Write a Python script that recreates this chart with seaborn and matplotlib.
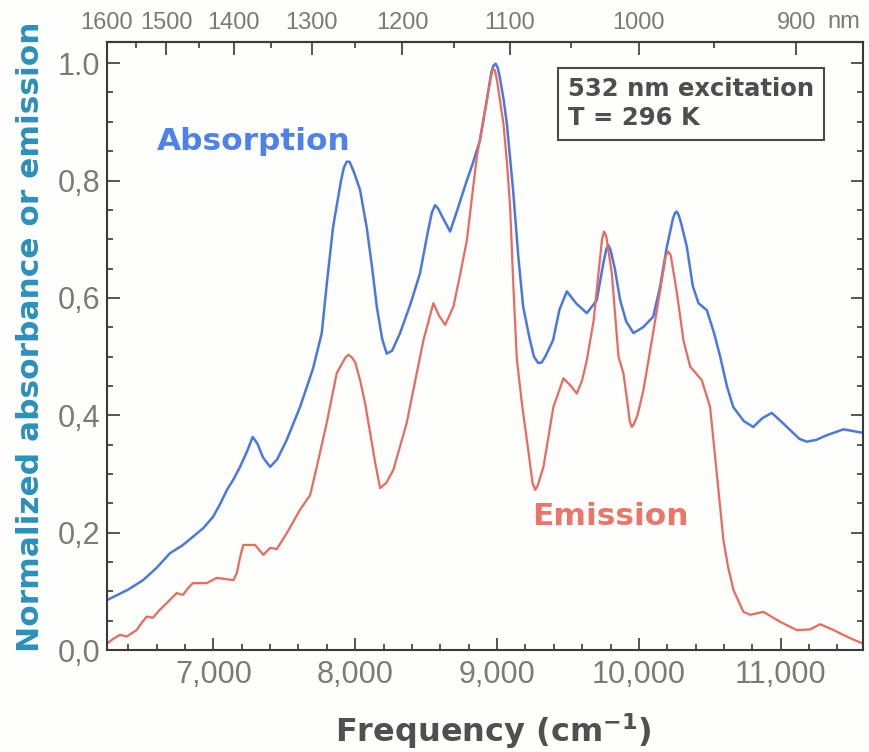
import numpy as np
import pandas as pd
import matplotlib
matplotlib.use("Agg")
import matplotlib.pyplot as plt
import seaborn as sns
from matplotlib.ticker import MultipleLocator, FixedLocator, FuncFormatter

# Absorption spectrum (normalized), frequency in cm^-1
abs_freq = [6250, 6400, 6504, 6600, 6694, 6780, 6856, 6930, 6998, 7050,
            7096, 7140, 7188, 7240, 7277, 7310, 7350, 7400, 7450, 7517,
            7611, 7703, 7764, 7800, 7844, 7900, 7920, 7940, 7960, 7990,
            8034, 8081, 8120, 8152, 8190, 8222, 8260, 8316, 8390, 8457,
            8510, 8540, 8563, 8585, 8610, 8669, 8720, 8787, 8830, 8880,
            8930, 8960, 8975, 8990, 9005, 9020, 9045, 9069, 9113, 9150,
            9184, 9230, 9260, 9290, 9315, 9340, 9395, 9440, 9492, 9560,
            9633, 9703, 9750, 9770, 9785, 9800, 9830, 9868, 9910, 9962,
            10030, 10101, 10150, 10197, 10240, 10255, 10268, 10282, 10300, 10338,
            10380, 10420, 10479, 10530, 10573, 10620, 10665, 10740, 10806, 10870,
            10937, 11000, 11066, 11130, 11184, 11250, 11325, 11442, 11580]
abs_val = [0.085, 0.103, 0.119, 0.140, 0.165, 0.178, 0.193, 0.208, 0.227, 0.250,
           0.273, 0.290, 0.312, 0.340, 0.363, 0.352, 0.328, 0.312, 0.325, 0.358,
           0.414, 0.480, 0.540, 0.625, 0.721, 0.800, 0.822, 0.832, 0.832, 0.815,
           0.784, 0.720, 0.650, 0.585, 0.530, 0.505, 0.510, 0.540, 0.590, 0.642,
           0.710, 0.745, 0.758, 0.752, 0.740, 0.713, 0.750, 0.800, 0.830, 0.869,
           0.940, 0.985, 0.996, 0.999, 0.992, 0.975, 0.940, 0.897, 0.784, 0.670,
           0.585, 0.530, 0.500, 0.489, 0.490, 0.500, 0.528, 0.580, 0.611, 0.590,
           0.574, 0.596, 0.660, 0.683, 0.690, 0.682, 0.650, 0.596, 0.560, 0.540,
           0.550, 0.568, 0.620, 0.687, 0.735, 0.745, 0.747, 0.740, 0.725, 0.687,
           0.620, 0.591, 0.579, 0.540, 0.500, 0.450, 0.414, 0.390, 0.380, 0.395,
           0.404, 0.390, 0.375, 0.360, 0.355, 0.358, 0.366, 0.376, 0.370]

# Emission spectrum (normalized), 532 nm excitation
emi_freq = [6250, 6300, 6342, 6389, 6459, 6500, 6530, 6574, 6620, 6671,
            6741, 6786, 6820, 6856, 6953, 7024, 7141, 7165, 7190, 7211,
            7294, 7352, 7400, 7447, 7517, 7611, 7682, 7729, 7799, 7870,
            7930, 7952, 7975, 8000, 8034, 8070, 8105, 8140, 8175, 8220,
            8269, 8363, 8434, 8481, 8551, 8590, 8634, 8692, 8740, 8787,
            8857, 8928, 8955, 8970, 8985, 9000, 9045, 9070, 9092, 9115,
            9139, 9175, 9210, 9250, 9268, 9285, 9327, 9397, 9468, 9520,
            9562, 9600, 9633, 9680, 9715, 9740, 9755, 9770, 9809, 9856,
            9891, 9920, 9935, 9950, 9965, 9990, 10032, 10079, 10150, 10190,
            10208, 10225, 10268, 10314, 10361, 10443, 10502, 10549, 10596, 10630,
            10667, 10737, 10784, 10878, 10996, 11113, 11207, 11278, 11372, 11490,
            11580]
emi_val = [0.011, 0.020, 0.026, 0.023, 0.034, 0.048, 0.057, 0.055, 0.068, 0.080,
           0.097, 0.094, 0.105, 0.114, 0.114, 0.123, 0.119, 0.131, 0.160, 0.179,
           0.179, 0.162, 0.174, 0.172, 0.199, 0.239, 0.264, 0.312, 0.387, 0.472,
           0.498, 0.503, 0.499, 0.490, 0.460, 0.420, 0.370, 0.320, 0.276, 0.285,
           0.307, 0.387, 0.472, 0.528, 0.591, 0.570, 0.554, 0.585, 0.640, 0.698,
           0.840, 0.937, 0.975, 0.990, 0.988, 0.970, 0.897, 0.830, 0.755, 0.620,
           0.497, 0.420, 0.358, 0.285, 0.273, 0.279, 0.312, 0.414, 0.463, 0.450,
           0.437, 0.460, 0.494, 0.560, 0.642, 0.700, 0.713, 0.705, 0.642, 0.500,
           0.471, 0.420, 0.390, 0.380, 0.385, 0.400, 0.443, 0.510, 0.613, 0.672,
           0.679, 0.672, 0.608, 0.528, 0.483, 0.460, 0.414, 0.301, 0.187, 0.140,
           0.102, 0.065, 0.060, 0.065, 0.048, 0.034, 0.035, 0.044, 0.034, 0.020,
           0.011]

# Axis ticks
freq_ticks = [7000, 8000, 9000, 10000, 11000]
y_ticks = [0.0, 0.2, 0.4, 0.6, 0.8, 1.0]
y_tick_labels = ["0,0", "0,2", "0,4", "0,6", "0,8", "1.0"]
nm_ticks = [1600, 1500, 1400, 1300, 1200, 1100, 1000, 900]
nm_minor = [1550, 1450, 1350, 1250, 1150, 1050, 950]

sns.set_theme(style="ticks")
plt.rcParams["font.family"] = ["Liberation Sans", "DejaVu Sans"]

BLUE = "#4a78e2"
RED = "#ea6a5e"
SPINE = "#3a3a3a"
TICKLBL = "#7a7a7a"

fig = plt.figure(figsize=(8.69, 7.52), dpi=100, facecolor="#fefefc")
ax = fig.add_axes([107 / 869, 102 / 752, 756 / 869, 608 / 752])
ax.set_facecolor("#fefefc")

absorption = pd.DataFrame({"freq": abs_freq, "value": abs_val})
emission = pd.DataFrame({"freq": emi_freq, "value": emi_val})

sns.lineplot(data=absorption, x="freq", y="value", ax=ax, color=BLUE,
             linewidth=1.8, sort=False, estimator=None)
sns.lineplot(data=emission, x="freq", y="value", ax=ax, color=RED,
             linewidth=1.6, sort=False, estimator=None)

ax.set_xlim(6250, 11580)
ax.set_ylim(0, 1.036)

ax.xaxis.set_major_locator(FixedLocator(freq_ticks))
ax.xaxis.set_minor_locator(MultipleLocator(200))
ax.xaxis.set_major_formatter(FuncFormatter(lambda v, p: f"{int(round(v)):,}"))
ax.set_yticks(y_ticks)
ax.set_yticklabels(y_tick_labels)
ax.yaxis.set_minor_locator(MultipleLocator(0.05))

for s in ax.spines.values():
    s.set_color(SPINE)
    s.set_linewidth(1.5)

ax.tick_params(which="both", direction="in", color=SPINE, width=1.2,
               top=False, right=True, left=True, bottom=True)
ax.tick_params(which="major", length=9)
ax.tick_params(which="minor", length=4.5)
ax.tick_params(axis="x", which="major", labelsize=22, labelcolor=TICKLBL, pad=7)
ax.tick_params(axis="y", which="major", labelsize=22, labelcolor=TICKLBL, pad=5)
ax.set_xlabel("")
ax.set_ylabel("")


def wavenumber_to_nm(x):
    x = np.asarray(x, dtype=float)
    with np.errstate(divide="ignore"):
        return 1e7 / x


sec = ax.secondary_xaxis("top", functions=(wavenumber_to_nm, wavenumber_to_nm))
sec.xaxis.set_major_locator(FixedLocator(nm_ticks))
sec.xaxis.set_minor_locator(FixedLocator(nm_minor))
sec.set_xticklabels([str(t) for t in nm_ticks])
sec.spines["top"].set_color(SPINE)
sec.spines["top"].set_linewidth(1.5)
sec.tick_params(which="both", direction="in", color=SPINE, width=1.2)
sec.tick_params(which="major", length=9, labelsize=17, labelcolor=TICKLBL, pad=6)
sec.tick_params(which="minor", length=4.5)
fig.text(827 / 869, 1 - 22 / 752, "nm", fontsize=17, color=TICKLBL,
         ha="left", va="center")

# Axis titles
fig.text(0.035, 0.552, "Normalized absorbance or emission", rotation=90,
         fontsize=22.5, fontweight="bold", color="#2a90bc",
         family="DejaVu Sans", ha="center", va="center")
fig.text(493 / 869, 1 - 742 / 752, "Frequency (cm$^{\\mathbf{-1}}$)",
         fontsize=23, fontweight="bold", color="#505050",
         family="DejaVu Sans", ha="center", va="baseline")

# Curve labels
ax.text(6603, 0.867, "Absorption", fontsize=22.5, fontweight="bold",
        color="#4c82ea", family="DejaVu Sans", ha="left", va="center")
ax.text(9245, 0.227, "Emission", fontsize=22.5, fontweight="bold",
        color="#ec7468", family="DejaVu Sans", ha="left", va="center")

ax.text(0.610, 0.942, "532 nm excitation\nT = 296 K", transform=ax.transAxes,
        fontsize=17.5, fontweight="bold", color="#4e4e4e", family="DejaVu Sans",
        ha="left", va="top", linespacing=1.25,
        bbox=dict(boxstyle="square,pad=0.4", facecolor="#fefefc",
                  edgecolor="#4a4a4a", linewidth=1.5))

fig.savefig("out.png", dpi=100, facecolor=fig.get_facecolor())
